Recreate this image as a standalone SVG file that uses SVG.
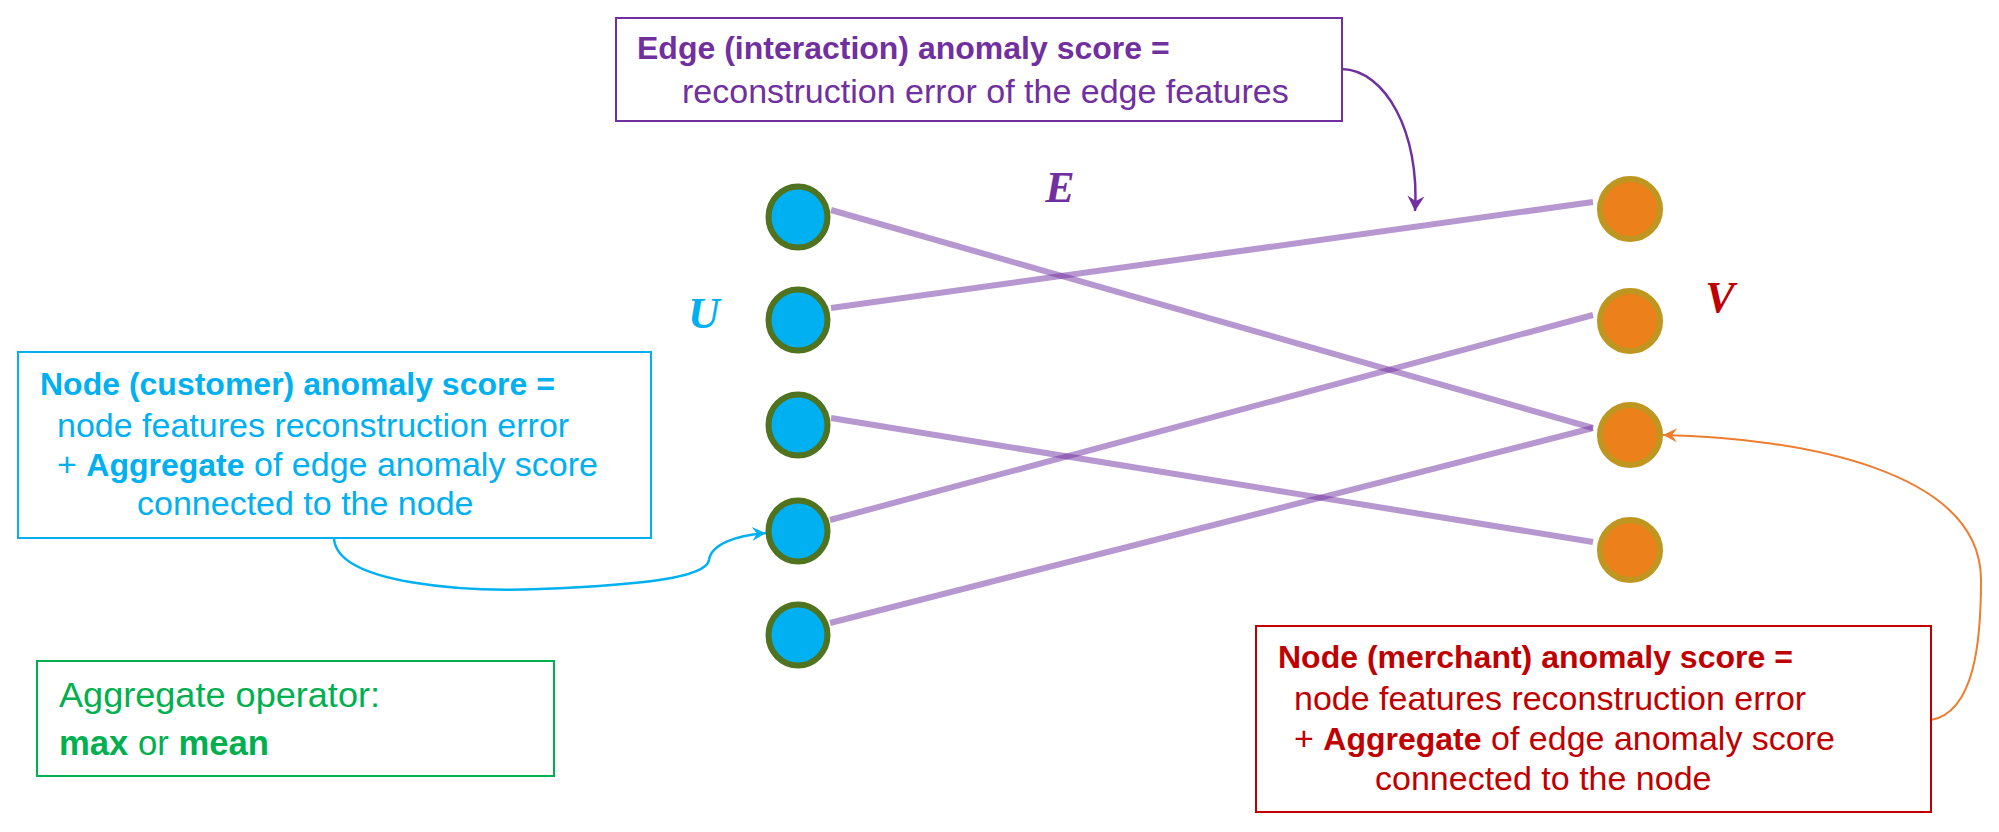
<svg xmlns="http://www.w3.org/2000/svg" width="1999" height="832" viewBox="0 0 1999 832">
  <style>
    .box { fill: #ffffff; stroke-width: 2; }
    .reg { font-family: "Liberation Sans", Arial, sans-serif; font-size: 34px; }
    .bld { font-family: "Liberation Sans", Arial, sans-serif; font-size: 32px; font-weight: bold; }
    .b { font-weight: bold; font-size: 32px; }
    .agg { font-family: "Liberation Sans", Arial, sans-serif; font-size: 35px; fill: #00B050; }
    .sym { font-family: "Liberation Serif", "Times New Roman", serif; font-size: 44px; font-weight: bold; font-style: italic; text-anchor: middle; }
    .edge { stroke: #7030A0; stroke-opacity: 0.5; stroke-width: 6; fill: none; }
    .unode { fill: #00B0F0; stroke: #507320; stroke-width: 6; }
    .vnode { fill: #EC801A; stroke: #BF9620; stroke-width: 6; }
    .purple { fill: #7030A0; }
    .blue { fill: #00B0F0; }
    .red { fill: #C00000; }
  </style>
  <defs>
    <marker id="headPurple" markerUnits="userSpaceOnUse" viewBox="-16 -10 17 20" markerWidth="17" markerHeight="20" refX="0" refY="0" orient="auto">
      <path d="M0,0 L-15,-8.5 L-10,0 L-15,8.5 Z" fill="#7030A0"/>
    </marker>
    <marker id="headBlue" markerUnits="userSpaceOnUse" viewBox="-16 -10 17 20" markerWidth="17" markerHeight="20" refX="0" refY="0" orient="auto">
      <path d="M0,0 L-14,-7 L-9,0 L-14,7 Z" fill="#00B0F0"/>
    </marker>
    <marker id="headOrange" markerUnits="userSpaceOnUse" viewBox="-16 -10 17 20" markerWidth="17" markerHeight="20" refX="0" refY="0" orient="auto">
      <path d="M0,0 L-14,-7 L-9,0 L-14,7 Z" fill="#ED7D31"/>
    </marker>
  </defs>

  <rect width="1999" height="832" fill="#ffffff"/>

  <g id="connectors">
    <line class="edge" x1="831" y1="210" x2="1593" y2="428"/>
    <line class="edge" x1="831" y1="308" x2="1593" y2="202"/>
    <line class="edge" x1="831" y1="418" x2="1593" y2="542"/>
    <line class="edge" x1="830" y1="520" x2="1593" y2="315"/>
    <line class="edge" x1="830" y1="623" x2="1593" y2="428"/>
    <path d="M1342,69 C1385,70 1420,132 1415,211" fill="none" stroke="#7030A0" stroke-width="2.5" marker-end="url(#headPurple)"/>
    <path d="M334,538 C336,585 470,592 540,589 C640,585 706,578 709,560 C711,545 735,535 766,533" fill="none" stroke="#00B0F0" stroke-width="2.5" marker-end="url(#headBlue)"/>
    <path d="M1931,720 C1975,712 1981,640 1981,580 C1981,470 1800,438 1663,435" fill="none" stroke="#ED7D31" stroke-width="2" marker-end="url(#headOrange)"/>
  </g>

  <g id="u-nodes">
    <ellipse id="u1" class="unode" cx="798" cy="217" rx="29.5" ry="30.5"/>
    <ellipse id="u2" class="unode" cx="798" cy="320" rx="29.5" ry="30.5"/>
    <ellipse id="u3" class="unode" cx="798" cy="425" rx="29.5" ry="30.5"/>
    <ellipse id="u4" class="unode" cx="798" cy="531" rx="29.5" ry="30.5"/>
    <ellipse id="u5" class="unode" cx="798" cy="635" rx="29.5" ry="30.5"/>
  </g>
  <g id="v-nodes">
    <ellipse id="v1" class="vnode" cx="1630" cy="209" rx="30" ry="30"/>
    <ellipse id="v2" class="vnode" cx="1630" cy="321" rx="30" ry="30"/>
    <ellipse id="v3" class="vnode" cx="1630" cy="435" rx="30" ry="30"/>
    <ellipse id="v4" class="vnode" cx="1630" cy="550" rx="30" ry="30"/>
  </g>

  <g id="labels">
    <text class="sym blue" x="704" y="328">U</text>
    <text class="sym purple" x="1060" y="202">E</text>
    <text class="sym red" x="1720" y="312">V</text>
  </g>

  <g id="edge-score">
    <rect class="box" x="616" y="18" width="726" height="103" stroke="#7030A0"/>
    <text class="bld purple" x="637" y="59">Edge (interaction) anomaly score =</text>
    <text class="reg purple" x="682" y="103">reconstruction error of the edge features</text>
  </g>

  <g id="customer-score">
    <rect class="box" x="18" y="352" width="633" height="186" stroke="#00B0F0"/>
    <text class="bld blue" x="40" y="395">Node (customer) anomaly score =</text>
    <text class="reg blue" x="57" y="437">node features reconstruction error</text>
    <text class="reg blue" x="57" y="476">+ <tspan class="b">Aggregate</tspan> of edge anomaly score</text>
    <text class="reg blue" x="137" y="515">connected to the node</text>
  </g>

  <g id="merchant-score">
    <rect class="box" x="1256" y="626" width="675" height="186" stroke="#C00000"/>
    <text class="bld red" x="1278" y="668">Node (merchant) anomaly score =</text>
    <text class="reg red" x="1294" y="710">node features reconstruction error</text>
    <text class="reg red" x="1294" y="750">+ <tspan class="b">Aggregate</tspan> of edge anomaly score</text>
    <text class="reg red" x="1375" y="790">connected to the node</text>
  </g>

  <g id="aggregate-operator">
    <rect class="box" x="37" y="661" width="517" height="115" stroke="#00B050"/>
    <text class="agg" x="59" y="707" textLength="321" lengthAdjust="spacingAndGlyphs">Aggregate operator:</text>
    <text class="agg" x="59" y="755" textLength="210" lengthAdjust="spacingAndGlyphs"><tspan font-weight="bold">max</tspan> or <tspan font-weight="bold">mean</tspan></text>
  </g>
</svg>
